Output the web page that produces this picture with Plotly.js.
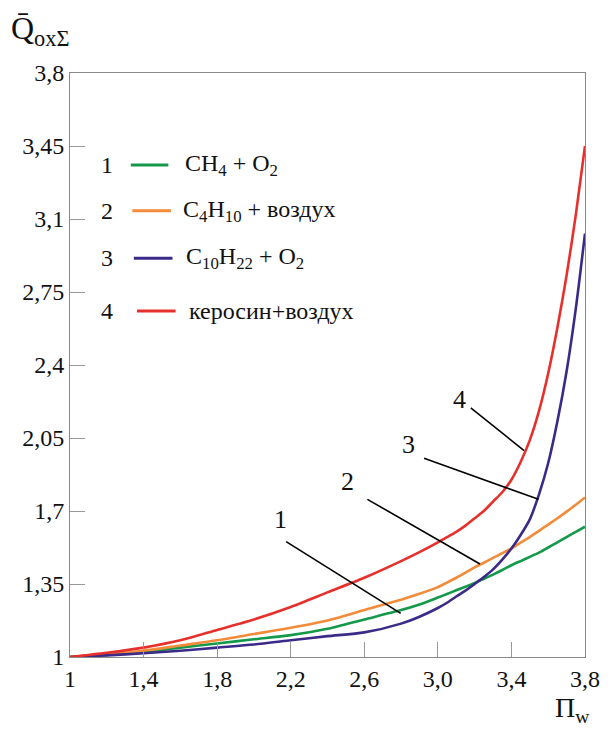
<!DOCTYPE html>
<html>
<head>
<meta charset="utf-8">
<script src="https://cdn.plot.ly/plotly-3.0.1.min.js"></script>
<style>html,body{margin:0;padding:0;background:#fff;}#chart{width:612px;height:729px;}</style>
</head>
<body>
<div id="chart"></div>
<script>
// Pi_w values (x)
const piW = [1.0,1.2,1.4,1.6,1.8,2.0,2.2,2.4,2.6,2.8,2.9,3.0,3.05,3.1,3.15,3.2,3.25,3.3,3.35,3.4,3.45,3.5,3.55,3.6,3.65,3.7,3.75,3.8];
// Curve 1: CH4 + O2
const ch4O2 = [1.0,1.01,1.025,1.045,1.065,1.085,1.105,1.135,1.18,1.225,1.252,1.285,1.302,1.32,1.337,1.355,1.375,1.395,1.417,1.44,1.46,1.48,1.50,1.525,1.55,1.575,1.60,1.625];
// Curve 2: C4H10 + air
const c4h10Air = [1.0,1.013,1.03,1.055,1.08,1.11,1.14,1.175,1.225,1.275,1.303,1.335,1.357,1.38,1.405,1.43,1.452,1.475,1.498,1.52,1.548,1.575,1.605,1.635,1.665,1.697,1.73,1.765];
// Curve 3: C10H22 + O2
const c10h22O2 = [1.0,1.008,1.018,1.03,1.045,1.06,1.08,1.10,1.118,1.16,1.193,1.235,1.26,1.29,1.318,1.35,1.383,1.42,1.467,1.52,1.585,1.66,1.78,1.93,2.13,2.37,2.67,3.03];
// Curve 4: kerosene + air
const keroseneAir = [1.0,1.02,1.045,1.08,1.13,1.18,1.24,1.31,1.38,1.46,1.503,1.55,1.575,1.60,1.63,1.665,1.70,1.745,1.79,1.85,1.935,2.04,2.18,2.36,2.58,2.83,3.12,3.45];

const seriesNums = ["1","2","3","4"];
const seriesNames = ["CH<sub>4</sub> + O<sub>2</sub>","C<sub>4</sub>H<sub>10</sub> + воздух","C<sub>10</sub>H<sub>22</sub> + O<sub>2</sub>","керосин+воздух"];
const seriesColors = ["#14984a","#f28b3a","#3b2a88","#e6302c"];

const xTickVals = [1,1.4,1.8,2.2,2.6,3.0,3.4,3.8];
const xTickText = ["1","1,4","1,8","2,2","2,6","3,0","3,4","3,8"];
const yTickVals = [1,1.35,1.7,2.05,2.4,2.75,3.1,3.45,3.8];
const yTickText = ["1","1,35","1,7","2,05","2,4","2,75","3,1","3,45","3,8"];

const serif = "Liberation Serif";
const ys = [ch4O2, c4h10Air, c10h22O2, keroseneAir];

const traces = ys.map((y,i)=>({
  x: piW, y: y, type:'scatter', mode:'lines',
  line:{color:seriesColors[i], width:2.6, shape:'spline', smoothing:0.7},
  name: seriesNames[i], hoverinfo:'skip'
}));

// Legend (custom) in paper coords
const legY = [0.8425,0.764,0.683,0.5925];
const legLineX = [[0.118,0.191],[0.121,0.196],[0.124,0.199],[0.130,0.205]];
const legTextX = [0.219,0.215,0.222,0.228];

const annotations = [];
const shapes = [];
for (let i=0;i<4;i++){
  annotations.push({xref:'paper',yref:'paper',x:0.072,y:legY[i],text:seriesNums[i],showarrow:false,
    font:{family:serif,size:24,color:'#111'},xanchor:'center',yanchor:'middle'});
  annotations.push({xref:'paper',yref:'paper',x:legTextX[i],y:legY[i],text:seriesNames[i],showarrow:false,
    font:{family:serif,size:24,color:'#111'},xanchor:'left',yanchor:'middle'});
  shapes.push({type:'line',xref:'paper',yref:'paper',x0:legLineX[i][0],x1:legLineX[i][1],y0:legY[i],y1:legY[i],
    line:{color:seriesColors[i],width:3}});
}

// Leader lines with curve labels (data coords)
const leaders = [
  {t:"1", tx:2.146, ty:1.66, x0:2.175, y0:1.553, x1:2.798, y1:1.209},
  {t:"2", tx:2.510, ty:1.84, x0:2.617, y0:1.756, x1:3.229, y1:1.446},
  {t:"3", tx:2.840, ty:2.02, x0:2.925, y0:1.953, x1:3.547, y1:1.756},
  {t:"4", tx:3.115, ty:2.235, x0:3.179, y0:2.195, x1:3.469, y1:1.989}
];
leaders.forEach(l=>{
  shapes.push({type:'line',xref:'x',yref:'y',x0:l.x0,y0:l.y0,x1:l.x1,y1:l.y1,line:{color:'#000',width:1.6}});
  annotations.push({xref:'x',yref:'y',x:l.tx,y:l.ty,text:l.t,showarrow:false,
    font:{family:serif,size:26,color:'#111'},xanchor:'center',yanchor:'middle'});
});

// Axis titles
annotations.push({xref:'paper',yref:'paper',x:-0.118,y:1.035,text:"Q\u0304<sub>oxΣ</sub>",showarrow:false,
  font:{family:serif,size:32,color:'#111'},xanchor:'left',yanchor:'bottom'});
annotations.push({xref:'paper',yref:'paper',x:0.975,y:-0.056,text:"Π<sub>w</sub>",showarrow:false,
  font:{family:serif,size:28,color:'#111'},xanchor:'center',yanchor:'top'});

const layout = {
  width:612, height:729,
  margin:{l:70,r:27,t:73,b:72},
  paper_bgcolor:'#fff', plot_bgcolor:'#fff',
  showlegend:false,
  font:{family:serif,size:24,color:'#111'},
  xaxis:{range:[1,3.8], tickvals:xTickVals, ticktext:xTickText, ticks:'inside', ticklen:15, tickcolor:'#999', tickwidth:1,
    showgrid:false, zeroline:false, showline:true, linecolor:'#888', linewidth:1, mirror:true,
    tickfont:{family:serif,size:24,color:'#111'}, fixedrange:true},
  yaxis:{range:[1,3.8], tickvals:yTickVals, ticktext:yTickText, ticks:'inside', ticklen:15, tickcolor:'#999', tickwidth:1,
    showgrid:false, zeroline:false, showline:true, linecolor:'#888', linewidth:1, mirror:true,
    tickfont:{family:serif,size:24,color:'#111'}, fixedrange:true},
  annotations: annotations,
  shapes: shapes
};

Plotly.newPlot('chart', traces, layout, {displayModeBar:false, staticPlot:true});
</script>
</body>
</html>
